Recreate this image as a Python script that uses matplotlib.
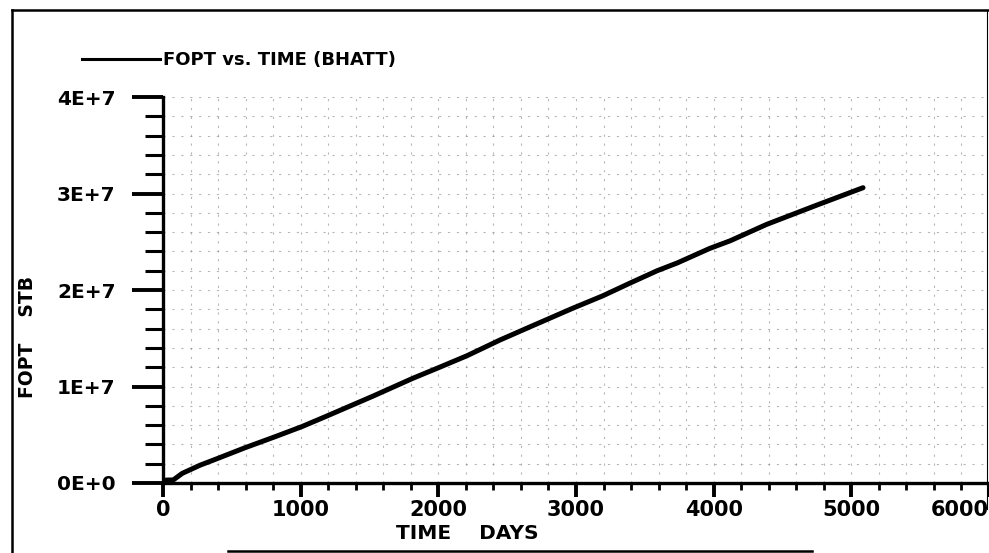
import matplotlib.pyplot as plt
from matplotlib.lines import Line2D
from matplotlib.ticker import MultipleLocator

# FOPT vs. TIME
time_days = [0, 22, 75, 140, 270, 380, 595, 815, 1010, 1200, 1395, 1525, 1815,
             2010, 2210, 2445, 2685, 2975, 3195, 3390, 3590, 3735, 3970, 4120,
             4385, 4750, 5085]
fopt_stb = [0, 0.3e6, 0.32e6, 1.0e6, 1.85e6, 2.45e6, 3.65e6, 4.8e6, 5.85e6, 7.0e6,
            8.2e6, 9.0e6, 1.085e7, 1.2e7, 1.32e7, 1.48e7, 1.63e7, 1.81e7, 1.94e7,
            2.07e7, 2.2e7, 2.28e7, 2.43e7, 2.51e7, 2.68e7, 2.88e7, 3.06e7]

x_ticks = [0, 1000, 2000, 3000, 4000, 5000, 6000]
x_tick_labels = ["0", "1000", "2000", "3000", "4000", "5000", "6000"]
y_ticks = [0, 1e7, 2e7, 3e7, 4e7]
y_tick_labels = ["0E+0", "1E+7", "2E+7", "3E+7", "4E+7"]

plt.rcParams["font.family"] = "DejaVu Sans"
plt.rcParams["font.weight"] = "bold"

fig = plt.figure(figsize=(9.89, 5.53), dpi=100)
ax = fig.add_axes([163 / 989, 70 / 553, 826 / 989, 386 / 553])

ax.plot(time_days, fopt_stb, color="black", linewidth=3.6, solid_capstyle="round",
        solid_joinstyle="round", label="FOPT vs. TIME (BHATT)", zorder=3)

ax.set_xlim(0, 6000)
ax.set_ylim(0, 4e7)
ax.set_xticks(x_ticks)
ax.set_xticklabels(x_tick_labels, fontsize=15, fontweight="bold")
ax.set_yticks(y_ticks)
ax.set_yticklabels(y_tick_labels, fontsize=14.5, fontweight="bold")
ax.xaxis.set_minor_locator(MultipleLocator(200))
ax.yaxis.set_minor_locator(MultipleLocator(2e6))
ax.get_xticklabels()[-1].set_horizontalalignment("right")

ax.tick_params(axis="y", which="major", direction="out", length=22, width=2.8, pad=12)
ax.tick_params(axis="y", which="minor", direction="out", length=13, width=2.2)
ax.tick_params(axis="x", which="major", direction="out", length=10, width=2.8, pad=2)
ax.tick_params(axis="x", which="minor", direction="out", length=5, width=2.0)

for side in ["top", "right"]:
    ax.spines[side].set_visible(False)
ax.spines["left"].set_linewidth(2.4)
ax.spines["bottom"].set_linewidth(2.4)

# faded dashed grid like the scanned print
ax.grid(True, which="both", color="#888888", linewidth=0.8, linestyle=(0, (2, 6)), alpha=0.6)
ax.set_axisbelow(True)

ax.set_ylabel("FOPT    STB", fontsize=13.5, fontweight="bold")
ax.yaxis.set_label_coords(-0.1525, 0.378)
ax.set_xlabel("TIME    DAYS", fontsize=14.5, fontweight="bold")
ax.xaxis.set_label_coords(0.369, -0.105)

legend_handle = Line2D([], [], color="black", linewidth=2.2)
fig.legend([legend_handle], ["FOPT vs. TIME (BHATT)"], loc="center left",
           bbox_to_anchor=(75 / 989, 1 - 60 / 553), frameon=False,
           handlelength=4.3, handletextpad=0.15, borderaxespad=0,
           prop={"size": 13, "weight": "bold"})

# page frame from the printout
frame_kw = dict(color="black", linewidth=1.8, transform=fig.transFigure)
fig.add_artist(Line2D([12 / 989, 12 / 989], [0, 1 - 10 / 553], **frame_kw))
fig.add_artist(Line2D([12 / 989, 1], [1 - 10 / 553, 1 - 10 / 553], **frame_kw))
fig.add_artist(Line2D([987 / 989, 987 / 989], [0.08, 1 - 10 / 553], color="black",
                      linewidth=0.8, transform=fig.transFigure))
fig.add_artist(Line2D([228 / 989, 812 / 989], [2 / 553, 2 / 553], **frame_kw))

plt.savefig("out.png", dpi=100)
